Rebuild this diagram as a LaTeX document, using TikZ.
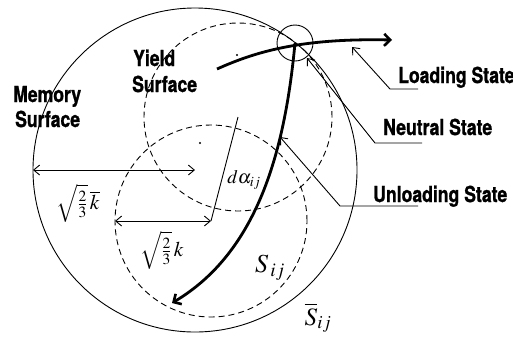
\documentclass[tikz,border=0pt]{standalone}
\usepackage{mathptmx}
\usepackage{fontspec}
\setmainfont{Liberation Serif}
\newfontfamily\lblfont{TeX Gyre Heros}[FakeBold=1.2]
\usetikzlibrary{arrows.meta}
\newcommand{\smfrac}[2]{{\textstyle\frac{#1}{#2}}}
\newcommand{\lb}[1]{\scalebox{0.8}[1]{\lblfont\bfseries\fontsize{22}{26}\selectfont #1}}
\begin{document}
\begin{tikzpicture}[x=1pt,y=-1pt,
  thinln/.style={line width=0.9pt},
  dashcirc/.style={line width=0.9pt, dash pattern=on 6pt off 4pt},
  thinarrow/.style={line width=0.9pt, -{Straight Barb[length=6pt,width=10pt]}},
  dblarrow/.style={line width=0.9pt, {Straight Barb[length=6pt,width=10pt]}-{Straight Barb[length=6pt,width=10pt]}},
  thickarrow/.style={line width=2.8pt, -{Straight Barb[length=6pt,width=12pt,line width=2.6pt]}},
  lbl/.style={inner sep=0pt, anchor=base west},
  mth/.style={inner sep=0pt, font=\fontsize{21}{24}\selectfont},
  dotm/.style={fill=black, inner sep=0pt, minimum size=2.4pt, circle}]
\useasboundingbox (0,0) rectangle (513,338);
% key points
\coordinate (M) at (195,170);
\coordinate (Mleft) at (33,170);
\coordinate (Y1) at (238,117);
\coordinate (Y2) at (211,221);
\coordinate (Y2left) at (115,221);
\coordinate (P) at (295,43);
\coordinate (S0) at (217,69);
\coordinate (Tend) at (392,40);
\coordinate (Bend) at (172,303);
% surfaces
\draw[thinln] (M) circle (162pt);
\draw[dashcirc] (Y1) circle (94pt);
\draw[dashcirc] (Y2) circle (96pt);
\draw[thinln] (P) circle (18pt);
% dots
\node[dotm] (d1) at (237,55) {};
\node[dotm] (d2) at (200,143) {};
% radius arrows
\draw[dblarrow] (Mleft) -- (M);
\draw[dblarrow] (Y2left) -- (Y2);
\draw[thinln] (Y1) -- (Y2);
% stress paths
\draw[thickarrow] (S0) .. controls (255,52) and (300,38) .. (Tend);
\draw[thickarrow] (P) .. controls (285,150) and (258,252) .. (Bend);
% leaders
\coordinate (LoadU) at (418,89); \coordinate (LoadK) at (390,89); \coordinate (LoadT) at (352,47);
\coordinate (NeuU) at (422,143); \coordinate (NeuK) at (375,143); \coordinate (NeuT) at (307,58);
\coordinate (UnlU) at (418,206); \coordinate (UnlK) at (340,206); \coordinate (UnlT) at (280,137);
\draw[thinarrow] (LoadU) -- (LoadK) -- (LoadT);
\draw[thinarrow] (NeuU) -- (NeuK) -- (NeuT);
\draw[thinarrow] (UnlU) -- (UnlK) -- (UnlT);
% labels
\node[lbl] (load) at (398,83) {\lb{Loading State}};
\node[lbl] (neu) at (383,135) {\lb{Neutral State}};
\node[lbl] (unl) at (373,202) {\lb{Unloading State}};
\node[lbl] (yl1) at (133,66) {\lb{Yield}};
\node[lbl] (yl2) at (132,92) {\lb{Surface}};
\node[lbl] (ms1) at (13,102) {\lb{Memory}};
\node[lbl] (ms2) at (15,127) {\lb{Surface}};
\node[mth] (kbar) at (78,203) {$\sqrt{\smfrac{2}{3}}\,\overline{k}$};
\node[mth] (ksm) at (162,250) {$\sqrt{\smfrac{2}{3}}\,k$};
\node[mth, font=\fontsize{19}{22}\selectfont] (dal) at (244,180) {$d\alpha_{ij}$};
\node[mth, font=\fontsize{26}{30}\selectfont] (sij) at (270,268) {$S_{\,ij}$};
\node[mth, font=\fontsize{25}{30}\selectfont] (sbij) at (318,318) {$\overline{S}_{ij}$};
\end{tikzpicture}
\end{document}
